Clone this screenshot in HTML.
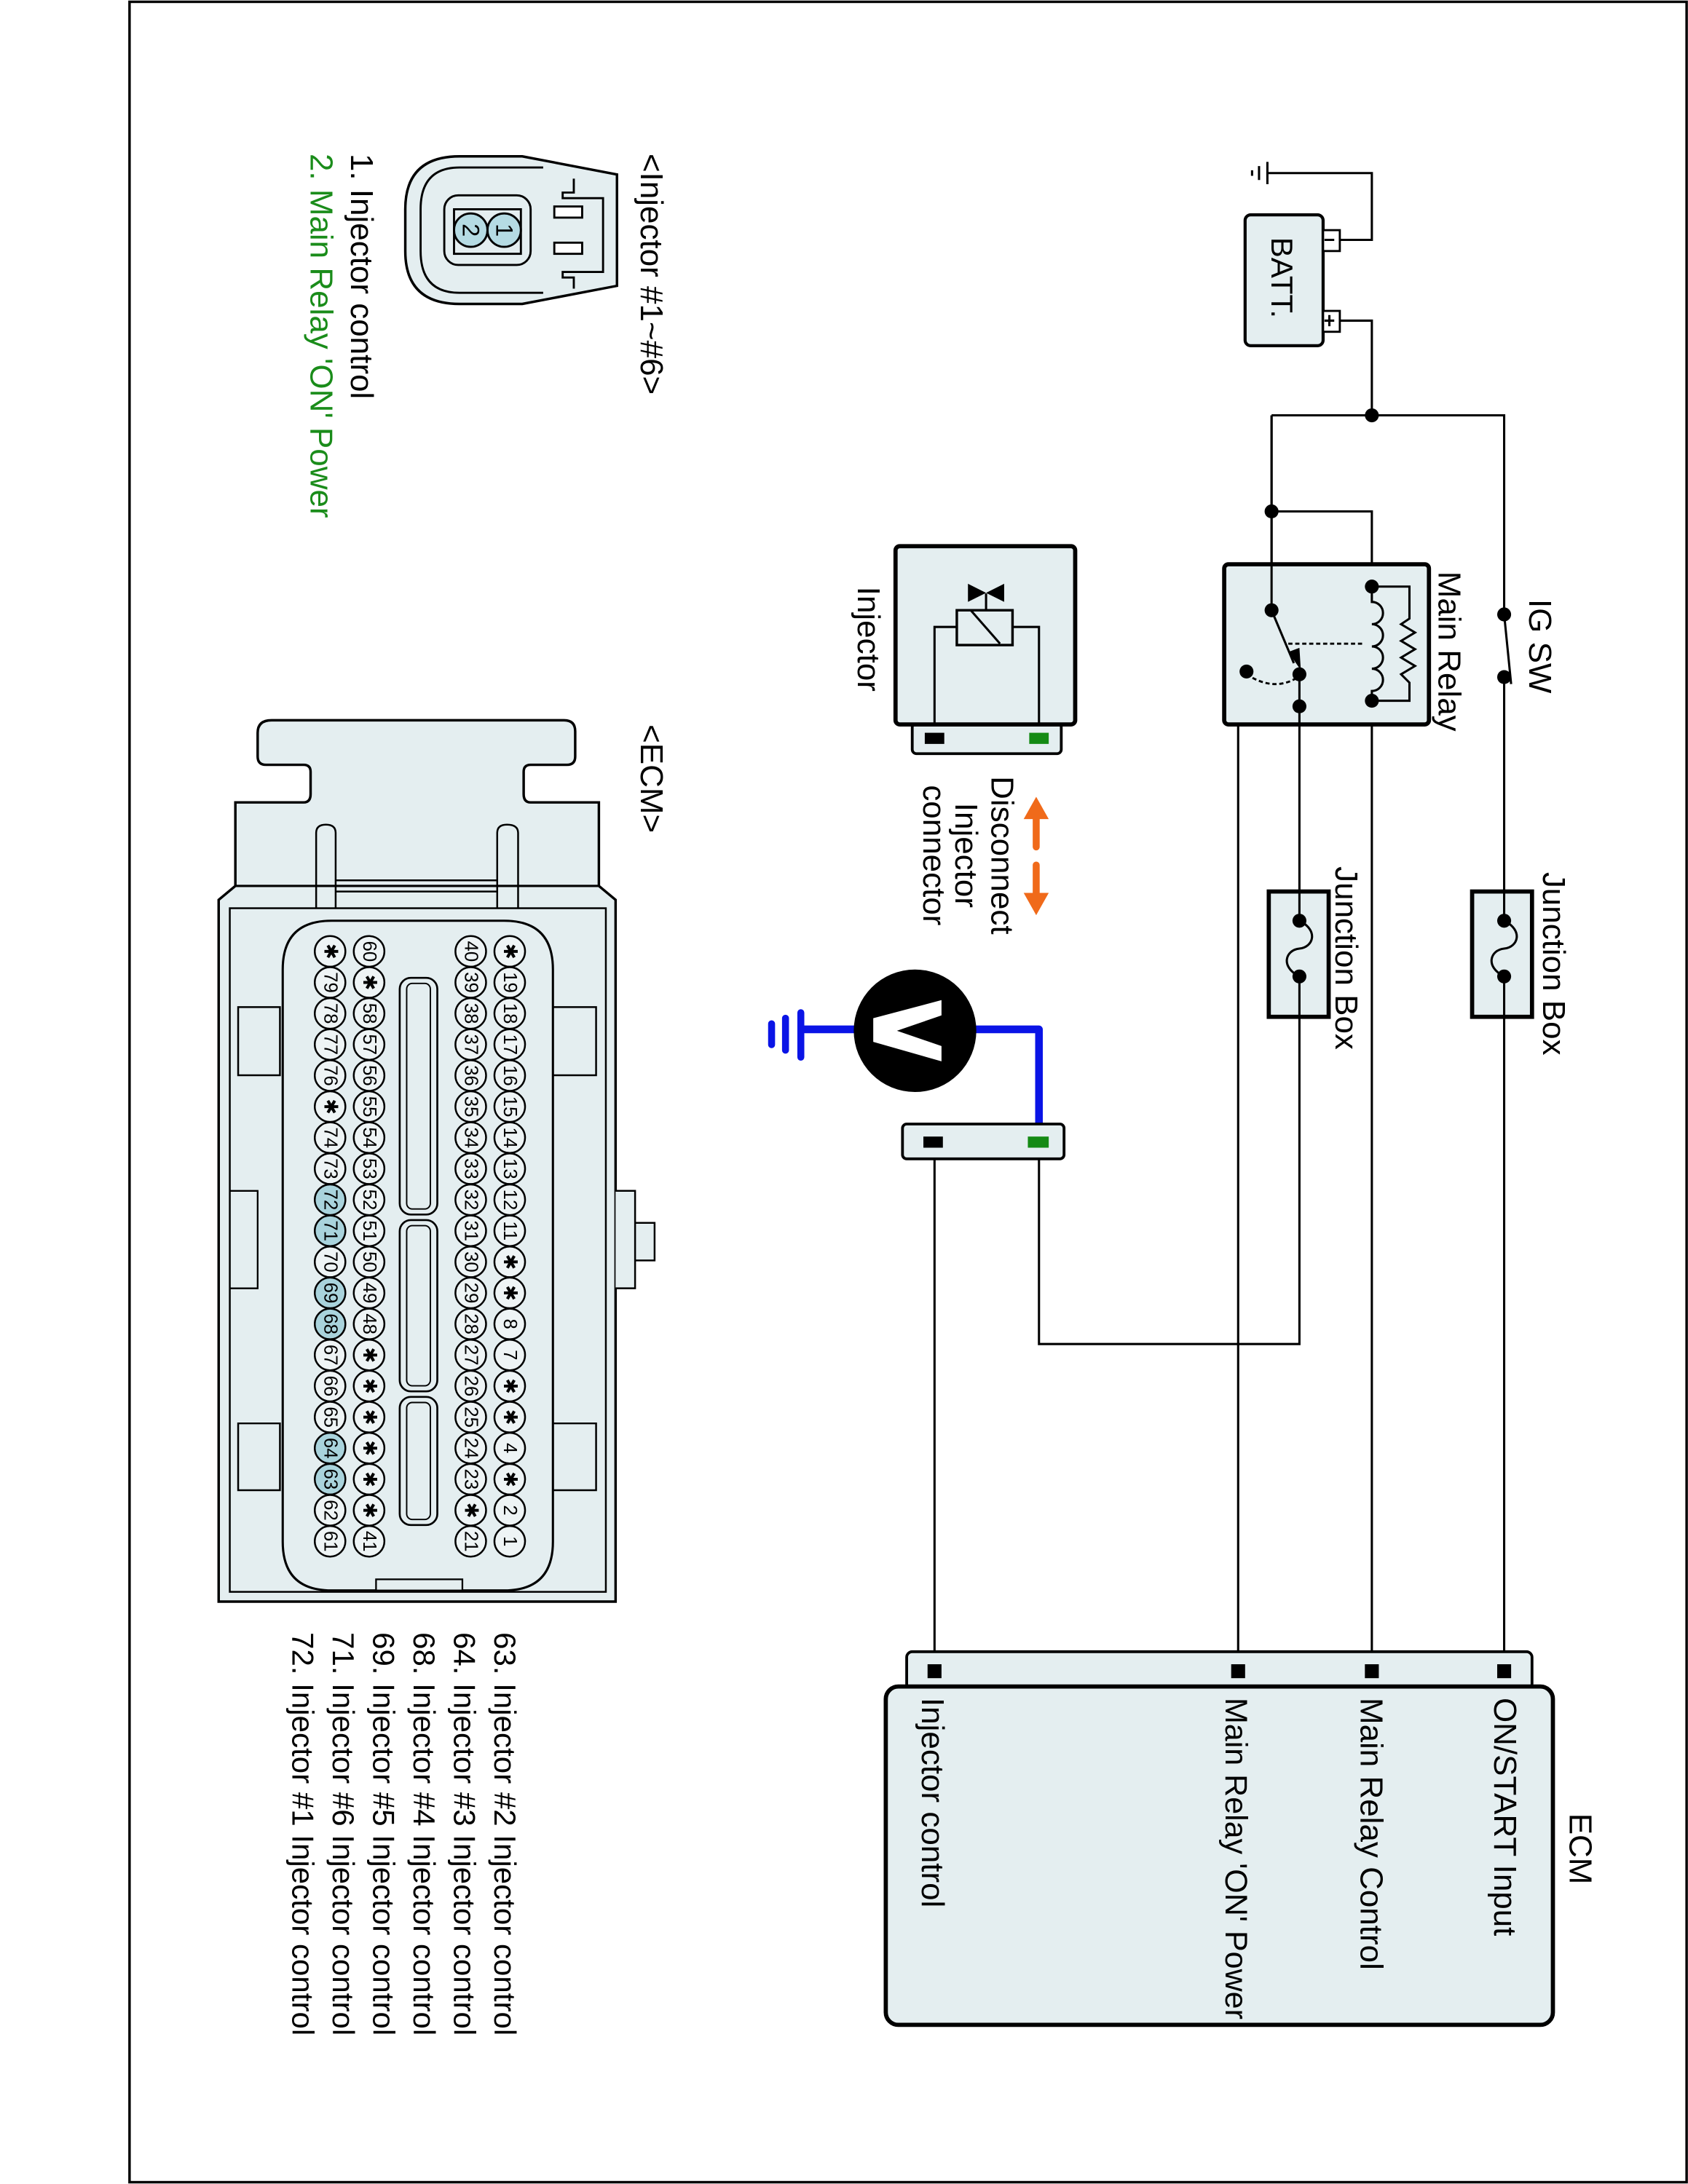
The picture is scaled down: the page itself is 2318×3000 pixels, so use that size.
<!DOCTYPE html>
<html><head><meta charset="utf-8"><style>
html,body{margin:0;padding:0;background:#fff}
svg{display:block}
text{font-family:"Liberation Sans",Arial,sans-serif;fill:#000}
.l{font-size:23px}
.p ellipse{fill:#eef4f5;stroke:#000;stroke-width:1.3}
.p.h ellipse{fill:#a9d3dc}
.p text{font-size:13.5px;text-anchor:middle;dominant-baseline:central}
.w{fill:none;stroke:#000;stroke-width:1.6}
.d{fill:#000}
</style></head><body>
<svg width="2318" height="3000" viewBox="0 0 1212 1568" xmlns="http://www.w3.org/2000/svg">
<rect x="93" y="1" width="1118" height="1566" fill="none" stroke="#000" stroke-width="1.8"/>

<!-- ground + battery -->
<path class="w" d="M910,124 H985 V172 H962"/>
<path class="w" d="M910,116 V132 M904,119 V129 M899,122 V126" stroke-width="1.6"/>
<rect x="894" y="154" width="56" height="94" rx="4" fill="#e4eef0" stroke="#000" stroke-width="2.2"/>
<rect x="950" y="165" width="12" height="15" fill="#fff" stroke="#000" stroke-width="1.5"/>
<rect x="950" y="223" width="12" height="15" fill="#fff" stroke="#000" stroke-width="1.5"/>
<path class="w" d="M951,172 H958 M951,230 H958 M954.5,226 V234" stroke-width="1.3"/>
<text class="l" transform="translate(913,170) rotate(90)" style="font-size:22px">BATT.</text>
<path class="w" d="M962,230 H985 V298"/>

<!-- main wires -->
<path class="w" d="M913,298 H1080 V1198"/>
<path class="w" d="M913,298 V438"/>
<path class="w" d="M913,367 H985 V421"/>
<path class="w" d="M985,503 V1198"/>
<path class="w" d="M933,485 V965 H746 V820"/>
<path class="w" d="M933,507 H889 V1198"/>
<path class="w" d="M671,820 V1198"/>
<circle class="d" cx="985" cy="298" r="5"/>
<circle class="d" cx="913" cy="367" r="5"/>

<!-- IG SW -->
<rect x="1074" y="446" width="12" height="38" fill="#fff"/>
<path class="w" d="M1080,441 L1085,491"/>
<circle class="d" cx="1080" cy="441" r="5"/>
<circle class="d" cx="1080" cy="486" r="5"/>
<text class="l" transform="translate(1098,430) rotate(90)">IG SW</text>

<!-- Main relay -->
<rect x="879" y="405" width="147" height="115" rx="3" fill="#e4eef0" stroke="#000" stroke-width="3"/>
<path class="w" d="M913,298 V438"/>
<path class="w" d="M985,421 H1012 V444 L1006,448 L1016,454 L1006,460 L1016,466 L1006,472 L1016,478 L1006,484 L1012,490 V503 H985"/>
<path class="w" d="M985,421 V432 A8,8 0 0 1 985,448 A8,8 0 0 1 985,464 A8,8 0 0 1 985,480 A8,8 0 0 1 985,496 V503"/>
<path d="M925,462 H980" stroke="#000" stroke-width="1.5" stroke-dasharray="3,2" fill="none"/>
<path class="w" d="M913,438 L929,476"/>
<path d="M925,468 L934,481 L933,465 Z" fill="#000"/>
<path d="M895,484 Q915,497 932,486" stroke="#000" stroke-width="1.5" stroke-dasharray="3,2" fill="none"/>
<path class="w" d="M933,485 V520"/>
<circle class="d" cx="985" cy="421" r="5"/>
<circle class="d" cx="985" cy="503" r="5"/>
<circle class="d" cx="913" cy="438" r="5"/>
<circle class="d" cx="933" cy="484" r="5"/>
<circle class="d" cx="895" cy="482" r="5"/>
<circle class="d" cx="933" cy="507" r="5"/>
<text class="l" transform="translate(1033,410) rotate(90)">Main Relay</text>

<!-- Junction boxes -->
<rect x="1057" y="640" width="43" height="90" fill="#e4eef0" stroke="#000" stroke-width="3"/>
<path class="w" d="M1080,640 V661 M1080,701 V730"/>
<path class="w" d="M1080,661 C1094,668 1090,680 1080,681 C1070,682 1066,694 1080,701"/>
<circle class="d" cx="1080" cy="661" r="5"/>
<circle class="d" cx="1080" cy="701" r="5"/>
<text class="l" transform="translate(1108,626) rotate(90)">Junction Box</text>

<rect x="911" y="640" width="43" height="90" fill="#e4eef0" stroke="#000" stroke-width="3"/>
<path class="w" d="M933,640 V661 M933,701 V730"/>
<path class="w" d="M933,661 C947,668 943,680 933,681 C923,682 919,694 933,701"/>
<circle class="d" cx="933" cy="661" r="5"/>
<circle class="d" cx="933" cy="701" r="5"/>
<text class="l" transform="translate(959,622) rotate(90)">Junction Box</text>

<!-- Injector -->
<rect x="655" y="519" width="107" height="22" rx="3" fill="#e4eef0" stroke="#000" stroke-width="2"/>
<rect x="643" y="392" width="129" height="128" rx="3" fill="#e4eef0" stroke="#000" stroke-width="3"/>
<path class="w" d="M671,520 V450 H687 M746,520 V450 H727 M708,438 V426"/>
<rect x="687" y="438" width="40" height="25" fill="#e4eef0" stroke="#000" stroke-width="1.8"/>
<path class="w" d="M697,438 L718,462" stroke-width="1.8"/>
<polygon points="695,419 708,425.5 695,432" fill="#000"/>
<polygon points="721,419 708,425.5 721,432" fill="#000"/>
<rect x="664" y="526" width="14" height="8" fill="#000"/>
<rect x="739" y="526" width="14" height="8" fill="#148a14"/>
<text class="l" transform="translate(616,421) rotate(90)">Injector</text>

<!-- Disconnect arrows -->
<path d="M744,586 V608" stroke="#f06a1a" stroke-width="5" stroke-linecap="round"/>
<path d="M735,588 L744,572 L753,588 Z" fill="#f06a1a"/>
<path d="M744,621 V643" stroke="#f06a1a" stroke-width="5" stroke-linecap="round"/>
<path d="M735,641 L744,657 L753,641 Z" fill="#f06a1a"/>
<text class="l" transform="translate(712,614) rotate(90)" text-anchor="middle">Disconnect</text>
<text class="l" transform="translate(686,614) rotate(90)" text-anchor="middle">Injector</text>
<text class="l" transform="translate(663,614) rotate(90)" text-anchor="middle">connector</text>

<!-- Voltmeter -->
<path d="M700,739 H746 V820" stroke="#0a14e6" stroke-width="5.5" fill="none" stroke-linejoin="round"/>
<path d="M614,739 H575" stroke="#0a14e6" stroke-width="5.5" fill="none"/>
<path d="M575,727 V759 M564,731 V754 M554,735 V750" stroke="#0a14e6" stroke-width="5" stroke-linecap="round" fill="none"/>
<circle cx="657" cy="740" r="44" fill="#000"/>
<polygon points="627,731 676,718 676,729 644,740 676,751 676,762 627,748" fill="#fff"/>
<rect x="648" y="807" width="116" height="25" rx="3" fill="#e4eef0" stroke="#000" stroke-width="2"/>
<rect x="663" y="816" width="14" height="8" fill="#000"/>
<rect x="738" y="816" width="15" height="8" fill="#148a14"/>

<!-- ECM box -->
<rect x="651" y="1186" width="449" height="27" rx="4" fill="#e4eef0" stroke="#000" stroke-width="2"/>
<rect x="636" y="1211" width="479" height="243" rx="9" fill="#e4eef0" stroke="#000" stroke-width="3"/>
<rect x="1075" y="1195" width="10" height="10" fill="#000"/>
<rect x="980" y="1195" width="10" height="10" fill="#000"/>
<rect x="884" y="1195" width="10" height="10" fill="#000"/>
<rect x="666" y="1195" width="10" height="10" fill="#000"/>
<text class="l" transform="translate(1127,1302) rotate(90)">ECM</text>
<text class="l" transform="translate(1073,1219) rotate(90)">ON/START Input</text>
<text class="l" transform="translate(977,1219) rotate(90)">Main Relay Control</text>
<text class="l" transform="translate(880,1219) rotate(90)" style="font-size:22.5px">Main Relay 'ON' Power</text>
<text class="l" transform="translate(662,1219) rotate(90)">Injector control</text>

<!-- Injector connector -->
<text class="l" transform="translate(460,110) rotate(90)">&lt;Injector #1~#6&gt;</text>
<path d="M443,125 L375,112 H330 Q291,112 291,150 V180 Q291,218 330,218 H375 L443,205 Z" fill="#e4eef0" stroke="#000" stroke-width="1.8"/>
<path d="M412,128 V138 H404 V142 H433 V195 H404 V199 H412 V207" fill="none" stroke="#000" stroke-width="1.5"/>
<path d="M390,120 H330 Q302,120 302,150 V180 Q302,210 330,210 H390" fill="none" stroke="#000" stroke-width="1.5"/>
<rect x="319" y="140" width="62" height="50" rx="10" fill="#e4eef0" stroke="#000" stroke-width="1.5"/>
<rect x="326" y="150" width="48" height="32" fill="#e4eef0" stroke="#000" stroke-width="1.5"/>
<rect x="398" y="148" width="20" height="8" fill="#fff" stroke="#000" stroke-width="1.5"/>
<rect x="398" y="174" width="20" height="8" fill="#fff" stroke="#000" stroke-width="1.5"/>
<circle cx="362" cy="165" r="12" fill="#b5dbe3" stroke="#000" stroke-width="1.5"/>
<circle cx="338" cy="165" r="12" fill="#b5dbe3" stroke="#000" stroke-width="1.5"/>
<text transform="translate(362,165) rotate(90)" text-anchor="middle" dominant-baseline="central" style="font-size:17px">1</text>
<text transform="translate(338,165) rotate(90)" text-anchor="middle" dominant-baseline="central" style="font-size:17px">2</text>
<text class="l" transform="translate(252,110) rotate(90)">1. Injector control</text>
<text class="l" transform="translate(223,110) rotate(90)" style="fill:#1a8c1a">2. Main Relay 'ON' Power</text>

<!-- ECM connector -->
<text class="l" transform="translate(460,520) rotate(90)">&lt;ECM&gt;</text>
<path d="M157,1150 V646 L169,636 V576 H218 Q223,576 223,570 V554 Q223,549 218,549 H191 Q185,549 185,543 V526 Q185,517 195,517 H405 Q413,517 413,525 V543 Q413,549 407,549 H381 Q376,549 376,554 V570 Q376,576 381,576 H430 V636 L442,646 V1150 Z" fill="#e4eef0" stroke="#000" stroke-width="1.8"/>
<path d="M169,636 H430" class="w" stroke-width="1.2"/>
<rect x="165" y="652" width="270" height="491" fill="#e4eef0" stroke="#000" stroke-width="1.3"/>
<path d="M227,652 V598 Q227,592 234,592 Q241,592 241,598 V652 M357,652 V598 Q357,592 364,592 Q372,592 372,598 V652 M241,632 H357 M241,640 H357" fill="none" stroke="#000" stroke-width="1.3"/>
<path d="M442,855 H456 V925 H442 M456,878 H470 V905 H456" fill="#e4eef0" stroke="#000" stroke-width="1.3"/>
<path d="M171,723 H201 V772 H171 Z M171,1022 H201 V1070 H171 Z M397,723 H428 V772 H397 Z M397,1022 H428 V1070 H397 Z" fill="#e4eef0" stroke="#000" stroke-width="1.3"/>
<path d="M165,855 H185 V925 H165" fill="none" stroke="#000" stroke-width="1.2"/>
<path d="M238,661 H362 Q397,661 397,696 V1107 Q397,1142 362,1142 H238 Q203,1142 203,1107 V696 Q203,661 238,661 Z" fill="#e4eef0" stroke="#000" stroke-width="1.6"/>
<rect x="270" y="1134" width="62" height="8" fill="#e4eef0" stroke="#000" stroke-width="1.2"/>
<rect x="287" y="702" width="27" height="170" rx="8" fill="#e4eef0" stroke="#000" stroke-width="1.4"/>
<rect x="292" y="706" width="17" height="162" rx="4" fill="none" stroke="#000" stroke-width="1"/>
<rect x="287" y="876" width="27" height="123" rx="8" fill="#e4eef0" stroke="#000" stroke-width="1.4"/>
<rect x="292" y="880" width="17" height="115" rx="4" fill="none" stroke="#000" stroke-width="1"/>
<rect x="287" y="1003" width="27" height="92" rx="8" fill="#e4eef0" stroke="#000" stroke-width="1.4"/>
<rect x="292" y="1007" width="17" height="84" rx="4" fill="none" stroke="#000" stroke-width="1"/>

<!-- Row 1 x=366 -->
<g class="p" transform="translate(366,683)"><ellipse rx="11" ry="11"/><text transform="rotate(90)">✱</text></g>
<g class="p" transform="translate(366,705.3)"><ellipse rx="11" ry="11"/><text transform="rotate(90)">19</text></g>
<g class="p" transform="translate(366,727.6)"><ellipse rx="11" ry="11"/><text transform="rotate(90)">18</text></g>
<g class="p" transform="translate(366,749.9)"><ellipse rx="11" ry="11"/><text transform="rotate(90)">17</text></g>
<g class="p" transform="translate(366,772.2)"><ellipse rx="11" ry="11"/><text transform="rotate(90)">16</text></g>
<g class="p" transform="translate(366,794.5)"><ellipse rx="11" ry="11"/><text transform="rotate(90)">15</text></g>
<g class="p" transform="translate(366,816.8)"><ellipse rx="11" ry="11"/><text transform="rotate(90)">14</text></g>
<g class="p" transform="translate(366,839.1)"><ellipse rx="11" ry="11"/><text transform="rotate(90)">13</text></g>
<g class="p" transform="translate(366,861.4)"><ellipse rx="11" ry="11"/><text transform="rotate(90)">12</text></g>
<g class="p" transform="translate(366,883.7)"><ellipse rx="11" ry="11"/><text transform="rotate(90)">11</text></g>
<g class="p" transform="translate(366,906)"><ellipse rx="11" ry="11"/><text transform="rotate(90)">✱</text></g>
<g class="p" transform="translate(366,928.3)"><ellipse rx="11" ry="11"/><text transform="rotate(90)">✱</text></g>
<g class="p" transform="translate(366,950.6)"><ellipse rx="11" ry="11"/><text transform="rotate(90)">8</text></g>
<g class="p" transform="translate(366,972.9)"><ellipse rx="11" ry="11"/><text transform="rotate(90)">7</text></g>
<g class="p" transform="translate(366,995.2)"><ellipse rx="11" ry="11"/><text transform="rotate(90)">✱</text></g>
<g class="p" transform="translate(366,1017.5)"><ellipse rx="11" ry="11"/><text transform="rotate(90)">✱</text></g>
<g class="p" transform="translate(366,1039.8)"><ellipse rx="11" ry="11"/><text transform="rotate(90)">4</text></g>
<g class="p" transform="translate(366,1062.1)"><ellipse rx="11" ry="11"/><text transform="rotate(90)">✱</text></g>
<g class="p" transform="translate(366,1084.4)"><ellipse rx="11" ry="11"/><text transform="rotate(90)">2</text></g>
<g class="p" transform="translate(366,1106.7)"><ellipse rx="11" ry="11"/><text transform="rotate(90)">1</text></g>
<!-- Row 2 x=338 -->
<g class="p" transform="translate(338,683)"><ellipse rx="11" ry="11"/><text transform="rotate(90)">40</text></g>
<g class="p" transform="translate(338,705.3)"><ellipse rx="11" ry="11"/><text transform="rotate(90)">39</text></g>
<g class="p" transform="translate(338,727.6)"><ellipse rx="11" ry="11"/><text transform="rotate(90)">38</text></g>
<g class="p" transform="translate(338,749.9)"><ellipse rx="11" ry="11"/><text transform="rotate(90)">37</text></g>
<g class="p" transform="translate(338,772.2)"><ellipse rx="11" ry="11"/><text transform="rotate(90)">36</text></g>
<g class="p" transform="translate(338,794.5)"><ellipse rx="11" ry="11"/><text transform="rotate(90)">35</text></g>
<g class="p" transform="translate(338,816.8)"><ellipse rx="11" ry="11"/><text transform="rotate(90)">34</text></g>
<g class="p" transform="translate(338,839.1)"><ellipse rx="11" ry="11"/><text transform="rotate(90)">33</text></g>
<g class="p" transform="translate(338,861.4)"><ellipse rx="11" ry="11"/><text transform="rotate(90)">32</text></g>
<g class="p" transform="translate(338,883.7)"><ellipse rx="11" ry="11"/><text transform="rotate(90)">31</text></g>
<g class="p" transform="translate(338,906)"><ellipse rx="11" ry="11"/><text transform="rotate(90)">30</text></g>
<g class="p" transform="translate(338,928.3)"><ellipse rx="11" ry="11"/><text transform="rotate(90)">29</text></g>
<g class="p" transform="translate(338,950.6)"><ellipse rx="11" ry="11"/><text transform="rotate(90)">28</text></g>
<g class="p" transform="translate(338,972.9)"><ellipse rx="11" ry="11"/><text transform="rotate(90)">27</text></g>
<g class="p" transform="translate(338,995.2)"><ellipse rx="11" ry="11"/><text transform="rotate(90)">26</text></g>
<g class="p" transform="translate(338,1017.5)"><ellipse rx="11" ry="11"/><text transform="rotate(90)">25</text></g>
<g class="p" transform="translate(338,1039.8)"><ellipse rx="11" ry="11"/><text transform="rotate(90)">24</text></g>
<g class="p" transform="translate(338,1062.1)"><ellipse rx="11" ry="11"/><text transform="rotate(90)">23</text></g>
<g class="p" transform="translate(338,1084.4)"><ellipse rx="11" ry="11"/><text transform="rotate(90)">✱</text></g>
<g class="p" transform="translate(338,1106.7)"><ellipse rx="11" ry="11"/><text transform="rotate(90)">21</text></g>
<!-- Row 3 x=265 -->
<g class="p" transform="translate(265,683)"><ellipse rx="11" ry="11"/><text transform="rotate(90)">60</text></g>
<g class="p" transform="translate(265,705.3)"><ellipse rx="11" ry="11"/><text transform="rotate(90)">✱</text></g>
<g class="p" transform="translate(265,727.6)"><ellipse rx="11" ry="11"/><text transform="rotate(90)">58</text></g>
<g class="p" transform="translate(265,749.9)"><ellipse rx="11" ry="11"/><text transform="rotate(90)">57</text></g>
<g class="p" transform="translate(265,772.2)"><ellipse rx="11" ry="11"/><text transform="rotate(90)">56</text></g>
<g class="p" transform="translate(265,794.5)"><ellipse rx="11" ry="11"/><text transform="rotate(90)">55</text></g>
<g class="p" transform="translate(265,816.8)"><ellipse rx="11" ry="11"/><text transform="rotate(90)">54</text></g>
<g class="p" transform="translate(265,839.1)"><ellipse rx="11" ry="11"/><text transform="rotate(90)">53</text></g>
<g class="p" transform="translate(265,861.4)"><ellipse rx="11" ry="11"/><text transform="rotate(90)">52</text></g>
<g class="p" transform="translate(265,883.7)"><ellipse rx="11" ry="11"/><text transform="rotate(90)">51</text></g>
<g class="p" transform="translate(265,906)"><ellipse rx="11" ry="11"/><text transform="rotate(90)">50</text></g>
<g class="p" transform="translate(265,928.3)"><ellipse rx="11" ry="11"/><text transform="rotate(90)">49</text></g>
<g class="p" transform="translate(265,950.6)"><ellipse rx="11" ry="11"/><text transform="rotate(90)">48</text></g>
<g class="p" transform="translate(265,972.9)"><ellipse rx="11" ry="11"/><text transform="rotate(90)">✱</text></g>
<g class="p" transform="translate(265,995.2)"><ellipse rx="11" ry="11"/><text transform="rotate(90)">✱</text></g>
<g class="p" transform="translate(265,1017.5)"><ellipse rx="11" ry="11"/><text transform="rotate(90)">✱</text></g>
<g class="p" transform="translate(265,1039.8)"><ellipse rx="11" ry="11"/><text transform="rotate(90)">✱</text></g>
<g class="p" transform="translate(265,1062.1)"><ellipse rx="11" ry="11"/><text transform="rotate(90)">✱</text></g>
<g class="p" transform="translate(265,1084.4)"><ellipse rx="11" ry="11"/><text transform="rotate(90)">✱</text></g>
<g class="p" transform="translate(265,1106.7)"><ellipse rx="11" ry="11"/><text transform="rotate(90)">41</text></g>
<!-- Row 4 x=237 -->
<g class="p" transform="translate(237,683)"><ellipse rx="11" ry="11"/><text transform="rotate(90)">✱</text></g>
<g class="p" transform="translate(237,705.3)"><ellipse rx="11" ry="11"/><text transform="rotate(90)">79</text></g>
<g class="p" transform="translate(237,727.6)"><ellipse rx="11" ry="11"/><text transform="rotate(90)">78</text></g>
<g class="p" transform="translate(237,749.9)"><ellipse rx="11" ry="11"/><text transform="rotate(90)">77</text></g>
<g class="p" transform="translate(237,772.2)"><ellipse rx="11" ry="11"/><text transform="rotate(90)">76</text></g>
<g class="p" transform="translate(237,794.5)"><ellipse rx="11" ry="11"/><text transform="rotate(90)">✱</text></g>
<g class="p" transform="translate(237,816.8)"><ellipse rx="11" ry="11"/><text transform="rotate(90)">74</text></g>
<g class="p" transform="translate(237,839.1)"><ellipse rx="11" ry="11"/><text transform="rotate(90)">73</text></g>
<g class="p h" transform="translate(237,861.4)"><ellipse rx="11" ry="11"/><text transform="rotate(90)">72</text></g>
<g class="p h" transform="translate(237,883.7)"><ellipse rx="11" ry="11"/><text transform="rotate(90)">71</text></g>
<g class="p" transform="translate(237,906)"><ellipse rx="11" ry="11"/><text transform="rotate(90)">70</text></g>
<g class="p h" transform="translate(237,928.3)"><ellipse rx="11" ry="11"/><text transform="rotate(90)">69</text></g>
<g class="p h" transform="translate(237,950.6)"><ellipse rx="11" ry="11"/><text transform="rotate(90)">68</text></g>
<g class="p" transform="translate(237,972.9)"><ellipse rx="11" ry="11"/><text transform="rotate(90)">67</text></g>
<g class="p" transform="translate(237,995.2)"><ellipse rx="11" ry="11"/><text transform="rotate(90)">66</text></g>
<g class="p" transform="translate(237,1017.5)"><ellipse rx="11" ry="11"/><text transform="rotate(90)">65</text></g>
<g class="p h" transform="translate(237,1039.8)"><ellipse rx="11" ry="11"/><text transform="rotate(90)">64</text></g>
<g class="p h" transform="translate(237,1062.1)"><ellipse rx="11" ry="11"/><text transform="rotate(90)">63</text></g>
<g class="p" transform="translate(237,1084.4)"><ellipse rx="11" ry="11"/><text transform="rotate(90)">62</text></g>
<g class="p" transform="translate(237,1106.7)"><ellipse rx="11" ry="11"/><text transform="rotate(90)">61</text></g>

<!-- pin list -->
<text class="l" transform="translate(355,1172) rotate(90)" style="font-size:22px">63. Injector #2 Injector control</text>
<text class="l" transform="translate(326,1172) rotate(90)" style="font-size:22px">64. Injector #3 Injector control</text>
<text class="l" transform="translate(297,1172) rotate(90)" style="font-size:22px">68. Injector #4 Injector control</text>
<text class="l" transform="translate(268,1172) rotate(90)" style="font-size:22px">69. Injector #5 Injector control</text>
<text class="l" transform="translate(239,1172) rotate(90)" style="font-size:22px">71. Injector #6 Injector control</text>
<text class="l" transform="translate(210,1172) rotate(90)" style="font-size:22px">72. Injector #1 Injector control</text>
</svg>
</body></html>
